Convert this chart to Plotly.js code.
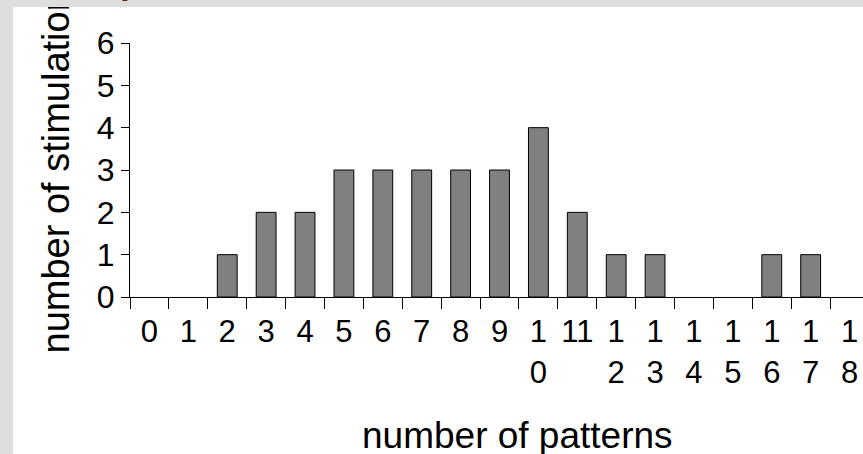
<!DOCTYPE html>
<html>
<head>
<meta charset="utf-8">
<script src="https://cdn.plot.ly/plotly-3.0.1.min.js"></script>
<style>
  html, body { margin: 0; padding: 0; width: 863px; height: 454px; overflow: hidden; background: #dedede; }
  #wrap { position: absolute; left: 13px; top: 7px; width: 850px; height: 447px; overflow: hidden; background: #ffffff; }
  #chart { position: absolute; left: 0; top: 0; }
  #head { position: absolute; left: 120px; top: -36px; font-family: Arial, "Liberation Sans", sans-serif; font-weight: bold; font-size: 35px; line-height: 35px; color: #6a1f04; white-space: nowrap; }
</style>
</head>
<body>
<div id="head">p</div>
<div id="wrap"><div id="chart"></div></div>
<script>
const categories = ['0','1','2','3','4','5','6','7','8','9','10','11','12','13','14','15','16','17','18'];
const tickLabels = ['0','1','2','3','4','5','6','7','8','9','1<br>0','11','1<br>2','1<br>3','1<br>4','1<br>5','1<br>6','1<br>7','1<br>8'];
const counts = [0,0,1,2,2,3,3,3,3,3,4,2,1,1,0,0,1,1,0];
const yTicks = [0,1,2,3,4,5,6];
const xTitle = 'number of patterns';
const yTitle = 'number of stimulations';

const font = 'Arial, "Liberation Sans", sans-serif';

Plotly.newPlot('chart', [{
  type: 'bar',
  x: categories,
  y: counts,
  marker: { color: '#808080', line: { color: '#000000', width: counts.map(v => v > 0 ? 1 : 0) } },
  hoverinfo: 'none'
}], {
  width: 857,
  height: 447,
  margin: { l: 117, r: 1, t: 36, b: 157 },
  paper_bgcolor: '#ffffff',
  plot_bgcolor: '#ffffff',
  showlegend: false,
  bargap: 0.49,
  font: { family: font, color: '#000000' },
  xaxis: {
    type: 'category',
    tickmode: 'array',
    tickvals: categories,
    ticktext: tickLabels,
    tickson: 'boundaries',
    tickangle: 0,
    ticks: 'outside',
    ticklen: 11,
    ticklabelstandoff: 7,
    tickcolor: '#000000',
    tickwidth: 1,
    showline: true,
    linecolor: '#000000',
    linewidth: 1,
    showgrid: false,
    zeroline: false,
    range: [-0.5, 18.5],
    tickfont: { family: font, size: 31, color: '#000000' },
    fixedrange: true
  },
  yaxis: {
    range: [0, 6],
    tickmode: 'array',
    tickvals: yTicks,
    ticktext: yTicks.map(String),
    ticks: 'outside',
    ticklen: 8,
    tickcolor: '#000000',
    tickwidth: 1,
    showline: true,
    linecolor: '#000000',
    linewidth: 1,
    showgrid: false,
    zeroline: false,
    tickfont: { family: font, size: 32, color: '#000000' },
    fixedrange: true
  },
  annotations: [
    { text: xTitle, xref: 'paper', yref: 'paper', x: 0.5244, y: -0.545, xanchor: 'center', yanchor: 'middle', showarrow: false, font: { family: font, size: 37, color: '#000000' } },
    { text: yTitle, xref: 'paper', yref: 'paper', x: -0.1, y: 0.53, xanchor: 'center', yanchor: 'middle', textangle: -90, showarrow: false, font: { family: font, size: 38, color: '#000000' } }
  ]
}, { displayModeBar: false, staticPlot: true });
</script>
</body>
</html>
